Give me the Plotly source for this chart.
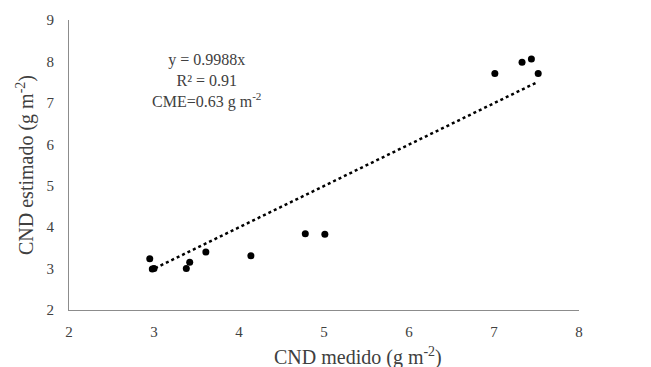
import plotly.graph_objects as go
import numpy as np

# Data
cnd_medido = [2.95, 2.98, 3.00, 3.38, 3.42, 3.61, 4.14, 4.78, 5.01, 7.01, 7.33, 7.44, 7.52]
cnd_estimado = [3.24, 2.99, 3.00, 3.00, 3.15, 3.40, 3.31, 3.84, 3.83, 7.71, 7.98, 8.06, 7.71]
slope = 0.9988
x_ticks = [2, 3, 4, 5, 6, 7, 8]
y_ticks = [2, 3, 4, 5, 6, 7, 8, 9]

font_family = "Liberation Serif"
text_color = "#404040"

W, H = 651, 367
ML, MR, MT, MB = 69, 72, 20, 57
pw = W - ML - MR
ph = H - MT - MB


def px_to_paper(px, py):
    return (px - ML) / pw, (H - MB - py) / ph


fig = go.Figure()

trend_x = np.array([min(cnd_medido), max(cnd_medido)])
fig.add_trace(go.Scatter(
    x=trend_x, y=slope * trend_x, mode="lines",
    line=dict(color="black", width=2.5, dash="dot"),
    hoverinfo="skip", showlegend=False,
))
fig.add_trace(go.Scatter(
    x=cnd_medido, y=cnd_estimado, mode="markers",
    marker=dict(color="black", size=7),
    showlegend=False,
))

xt_x, xt_y = px_to_paper(358, 356)
yt_x, yt_y = px_to_paper(25, 165)

fig.update_layout(
    width=W, height=H,
    margin=dict(l=ML, r=MR, t=MT, b=MB),
    plot_bgcolor="white", paper_bgcolor="white",
    font=dict(family=font_family, color=text_color, size=15),
    xaxis=dict(
        range=[2, 8], tickvals=x_ticks, showgrid=False, zeroline=False,
        showline=True, linecolor="#8c8c8c", linewidth=1,
        ticks="", ticklabelstandoff=8,
        tickfont=dict(family=font_family, size=15, color=text_color),
    ),
    yaxis=dict(
        range=[2, 9], tickvals=y_ticks, showgrid=False, zeroline=False,
        showline=True, linecolor="#8c8c8c", linewidth=1,
        ticks="", ticklabelstandoff=11,
        tickfont=dict(family=font_family, size=15, color=text_color),
    ),
    annotations=[
        dict(
            x=3.62, y=7.53, xref="x", yref="y", showarrow=False,
            xanchor="center", yanchor="middle",
            text="y = 0.9988x<br>R² = 0.91<br>CME=0.63 g m<sup>-2</sup>",
            font=dict(family=font_family, size=16, color=text_color),
            align="center",
        ),
        dict(
            x=xt_x, y=xt_y, xref="paper", yref="paper", showarrow=False,
            xanchor="center", yanchor="middle",
            text="CND medido (g m<sup>-2</sup>)",
            font=dict(family=font_family, size=20, color=text_color),
        ),
        dict(
            x=yt_x, y=yt_y, xref="paper", yref="paper", showarrow=False,
            xanchor="center", yanchor="middle", textangle=-90,
            text="CND estimado (g m<sup>-2</sup>)",
            font=dict(family=font_family, size=20, color=text_color),
        ),
    ],
)

fig.write_html("out.html")
